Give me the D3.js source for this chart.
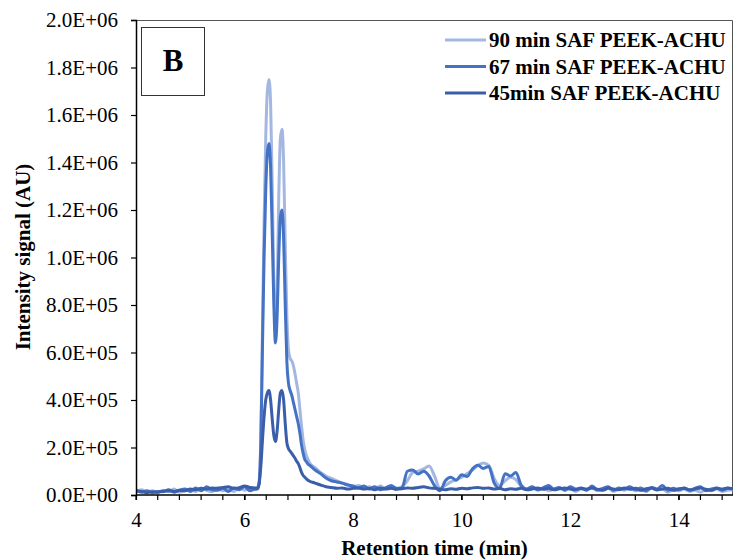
<!DOCTYPE html>
<html>
<head>
<meta charset="utf-8">
<script src="https://cdn.jsdelivr.net/npm/d3@7"></script>
<style>
  html, body { margin: 0; padding: 0; background: #fff; }
  svg { display: block; }
  text { font-family: "Liberation Serif", "Times New Roman", serif; }
</style>
</head>
<body>
<svg id="chart" width="734" height="560"></svg>
<script>
// ---- data (intensity in thousands of AU) ----
const time = [
  4.0,4.1,4.2,4.3,4.4,4.5,4.6,4.7,4.8,4.9,5.0,5.1,5.2,5.3,5.4,5.5,5.6,5.7,5.8,5.9,6.0,6.1,6.2,
  6.24,6.27,6.30,6.33,6.36,6.39,6.42,6.45,6.48,6.51,6.54,6.57,6.60,6.63,6.66,6.69,6.72,6.75,6.78,6.81,6.84,6.87,6.90,6.93,6.96,6.99,7.02,7.05,7.08,7.11,7.14,7.17,7.20,
  7.3,7.4,7.5,7.6,7.7,7.8,7.9,8.0,
  8.1,8.2,8.3,8.4,8.5,8.6,8.7,8.8,8.9,9.0,
  9.1,9.2,9.3,9.4,9.5,9.6,9.7,9.8,9.9,10.0,
  10.1,10.2,10.3,10.4,10.5,10.6,10.7,10.8,10.9,11.0,
  11.1,11.2,11.3,11.4,11.5,11.6,11.7,11.8,11.9,12.0,
  12.1,12.2,12.3,12.4,12.5,12.6,12.7,12.8,12.9,13.0,
  13.1,13.2,13.3,13.4,13.5,13.6,13.7,13.8,13.9,14.0,
  14.1,14.2,14.3,14.4,14.5,14.6,14.7,14.8,14.9,15.0
];

const s90 = [
  15,22,12,18,10,20,14,25,12,18,22,15,28,20,14,30,18,25,15,32,20,28,22,
  30,60,250,700,1150,1500,1700,1750,1650,1300,900,680,850,1250,1500,1540,1400,1050,750,610,575,565,545,510,470,430,360,290,230,190,165,150,135,
  115,95,80,70,60,50,45,35,
  40,30,35,25,38,28,30,25,35,60,
  95,100,110,122,80,28,40,55,65,75,
  90,105,125,135,125,70,40,60,75,65,
  35,25,30,20,28,18,25,30,20,28,
  15,25,20,30,18,22,28,15,25,20,
  30,18,22,15,28,20,25,12,22,18,
  25,15,20,12,22,18,25,15,20,22
];

const s67 = [
  20,12,18,10,15,14,22,12,20,25,15,30,18,35,22,20,28,15,30,22,35,18,25,
  25,50,220,620,1000,1280,1440,1480,1380,1100,800,640,750,1000,1170,1200,1080,800,560,470,440,420,390,360,330,300,260,210,175,150,140,130,125,
  105,90,72,60,55,50,42,38,
  30,38,25,35,22,30,40,28,30,100,
  105,88,100,80,40,18,60,75,62,85,
  78,110,125,112,120,50,28,90,80,95,
  40,25,35,22,30,40,25,32,20,35,
  25,30,20,38,22,28,35,20,30,25,
  35,22,30,18,32,25,40,20,28,22,
  30,20,28,35,18,25,30,20,28,25
];

const s45 = [
  18,15,10,14,12,16,18,15,20,18,25,22,28,25,30,28,32,35,28,30,38,32,30,
  30,50,120,230,330,400,430,440,400,320,250,225,270,360,430,440,400,300,220,195,185,175,165,155,142,132,115,95,82,75,68,62,58,
  50,42,35,32,28,30,25,28,
  30,25,28,22,30,25,28,24,26,30,
  28,32,35,30,28,25,22,26,24,28,
  26,30,32,28,30,25,28,22,26,24,
  28,22,25,30,24,28,22,26,30,25,
  22,28,25,30,24,20,28,25,22,30,
  24,28,20,26,30,22,25,28,20,26,
  28,22,25,30,24,20,28,25,30,26
];

const seriesNames = ["90 min SAF PEEK-ACHU", "67 min SAF PEEK-ACHU", "45min SAF PEEK-ACHU"];
const seriesColors = ["#a3b7e0", "#4472c4", "#3a5ea9"];
const seriesValues = [s90, s67, s45];
const UNIT = 1000;

const yTicks = [0, 2e5, 4e5, 6e5, 8e5, 1e6, 1.2e6, 1.4e6, 1.6e6, 1.8e6, 2e6];
const xTicks = [4, 6, 8, 10, 12, 14];

// ---- layout ----
const svg = d3.select("#chart");
const L = 136, R = 733, T = 20, B = 495;

const x = d3.scaleLinear().domain([4, 15]).range([L, R]);
const y = d3.scaleLinear().domain([0, 2e6]).range([B, T]);

function sci(d) {
  if (d === 0) return "0.0E+00";
  const e = Math.floor(Math.log10(d) + 1e-9);
  const m = d / Math.pow(10, e);
  return m.toFixed(1) + "E+" + String(e).padStart(2, "0");
}

svg.append("defs").append("clipPath").attr("id", "clip")
  .append("rect").attr("x", L).attr("y", T).attr("width", R - L).attr("height", B - T);

// frame (top/right)
svg.append("path")
  .attr("d", `M${L},${T + 0.5}H${R - 0.5}V${B}`)
  .attr("fill", "none").attr("stroke", "#555").attr("stroke-width", 1);

// series
const line = d3.line()
  .x((d, i) => x(time[i]))
  .y(d => y(d * UNIT))
  .curve(d3.curveMonotoneX);

const g = svg.append("g").attr("clip-path", "url(#clip)");
seriesValues.forEach((vals, k) => {
  g.append("path")
    .datum(vals)
    .attr("d", line)
    .attr("fill", "none")
    .attr("stroke", seriesColors[k])
    .attr("stroke-width", 3)
    .attr("stroke-linejoin", "round")
    .attr("stroke-linecap", "round");
});

// y axis
const yAxis = d3.axisLeft(y).tickValues(yTicks).tickFormat(sci).tickSize(5).tickPadding(13);
const gy = svg.append("g").attr("transform", `translate(${L},0)`).call(yAxis);
gy.select(".domain").attr("stroke", "#000").attr("stroke-width", 1.5);
gy.selectAll(".tick line").attr("stroke", "#000").attr("stroke-width", 1.2);
gy.selectAll(".tick text").attr("font-size", 21).attr("fill", "#000")
  .attr("font-family", "'Liberation Serif', 'Times New Roman', serif");

// x axis minor ticks
const minor = d3.range(4, 15.001, 0.4);
svg.append("g").selectAll("line").data(minor).join("line")
  .attr("x1", d => x(d)).attr("x2", d => x(d))
  .attr("y1", B).attr("y2", B + 5)
  .attr("stroke", "#000").attr("stroke-width", 1.2);

const xAxis = d3.axisBottom(x).tickValues(xTicks).tickFormat(d3.format("d")).tickSize(5).tickPadding(12);
const gx = svg.append("g").attr("transform", `translate(0,${B})`).call(xAxis);
gx.select(".domain").attr("stroke", "#000").attr("stroke-width", 1.5).attr("d", `M${L},0H${R}`);
gx.selectAll(".tick line").attr("stroke", "#000").attr("stroke-width", 1.2);
gx.selectAll(".tick text").attr("font-size", 21).attr("fill", "#000")
  .attr("font-family", "'Liberation Serif', 'Times New Roman', serif");

// axis titles
svg.append("text")
  .attr("transform", `translate(30,257) rotate(-90)`)
  .attr("text-anchor", "middle")
  .attr("font-size", 21).attr("font-weight", "bold")
  .text("Intensity signal (AU)");

svg.append("text")
  .attr("x", (L + R) / 2).attr("y", 555)
  .attr("text-anchor", "middle")
  .attr("font-size", 21).attr("font-weight", "bold")
  .text("Retention time (min)");

// panel label
svg.append("rect").attr("x", 141.5).attr("y", 27.5).attr("width", 63).attr("height", 68)
  .attr("fill", "#fff").attr("stroke", "#333").attr("stroke-width", 1);
svg.append("text").attr("x", 173).attr("y", 71).attr("text-anchor", "middle")
  .attr("font-size", 31).attr("font-weight", "bold").text("B");

// legend
const legY = [40, 66.5, 93];
const leg = svg.append("g");
seriesNames.forEach((name, k) => {
  leg.append("line").attr("x1", 445).attr("x2", 486).attr("y1", legY[k]).attr("y2", legY[k])
    .attr("stroke", seriesColors[k]).attr("stroke-width", 3);
  leg.append("text").attr("x", 489).attr("y", legY[k] + 7)
    .attr("font-size", 21).attr("font-weight", "bold").text(name);
});
</script>
</body>
</html>
